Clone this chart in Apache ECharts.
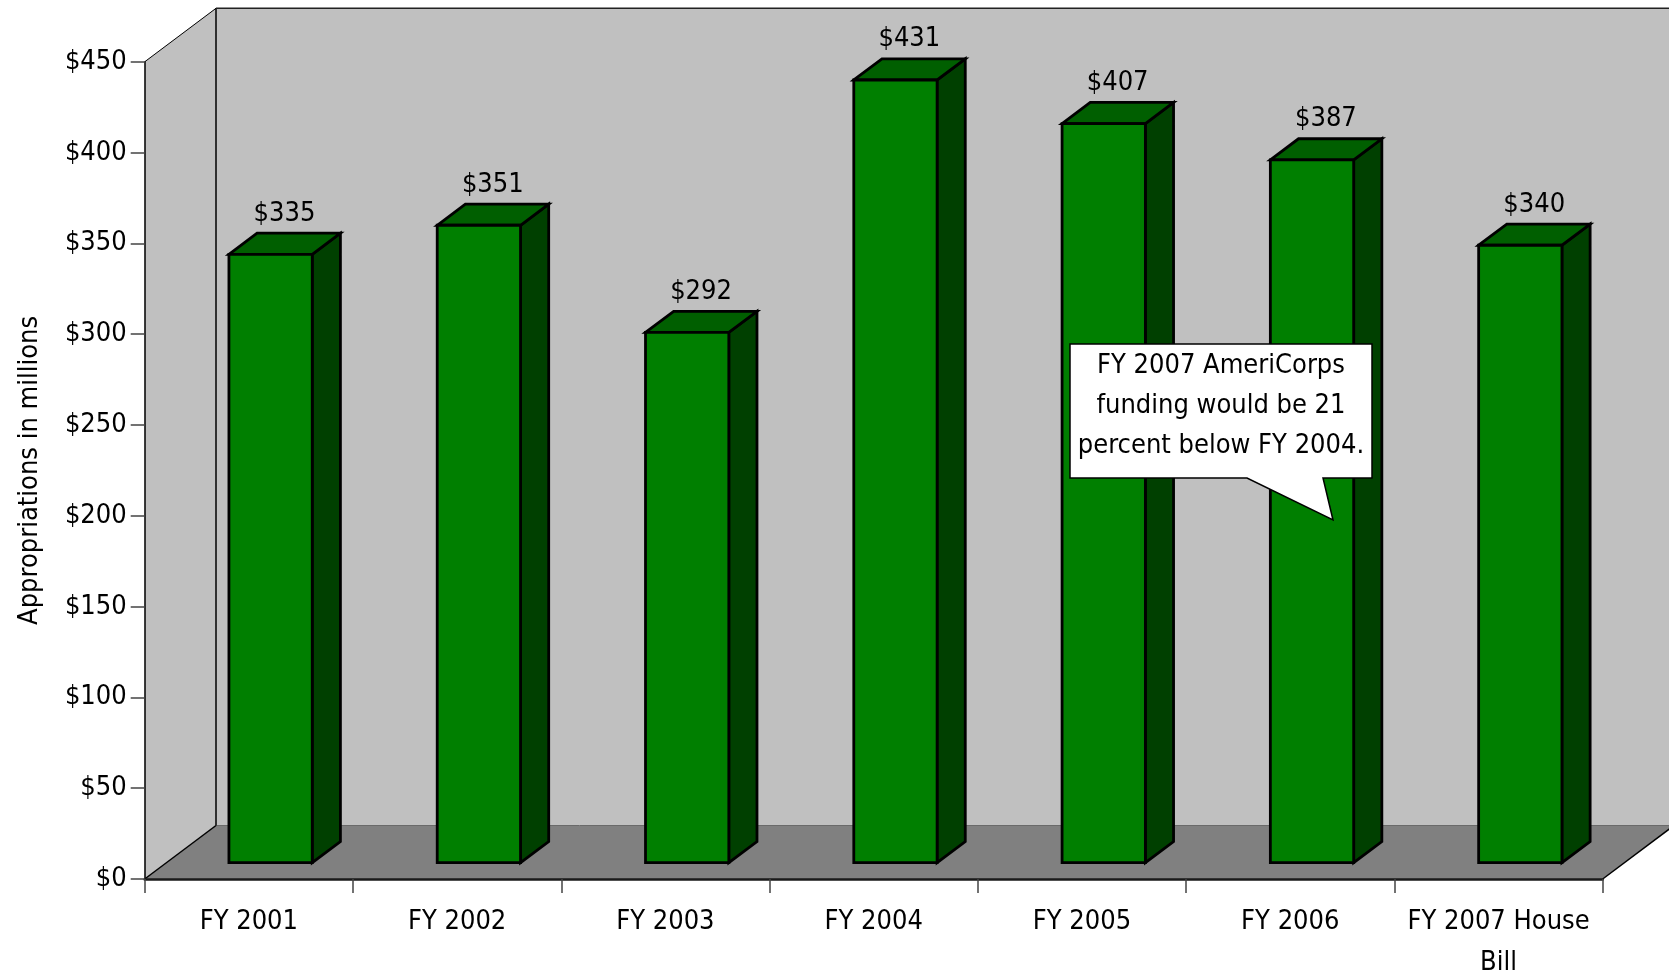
<!DOCTYPE html>
<html>
<head>
<meta charset="utf-8">
<script src="https://cdn.jsdelivr.net/npm/echarts@6/dist/echarts.min.js"></script>
<style>
  html, body { margin: 0; padding: 0; background: #fff; }
  #main { width: 1669px; height: 974px; }
</style>
</head>
<body>
<div id="main"></div>
<script>
  // datos
  var categorias = ['FY 2001', 'FY 2002', 'FY 2003', 'FY 2004', 'FY 2005', 'FY 2006', 'FY 2007 House\nBill'];
  var valores = [335, 351, 292, 431, 407, 387, 340];
  var etiquetas = ['$335', '$351', '$292', '$431', '$407', '$387', '$340'];
  var yTicks = [0, 50, 100, 150, 200, 250, 300, 350, 400, 450];
  var notaTexto = 'FY 2007 AmeriCorps\nfunding would be 21\npercent below FY 2004.';

  var fuente = "'Liberation Sans Narrow', 'Arial Narrow', 'DejaVu Sans Condensed', sans-serif";
  var tam = 27;

  // desplazamiento de profundidad (efecto 3D)
  var DX = 71.3, DY = -53.5;
  var D0 = 0.305, D1 = 0.70;

  var myChart = echarts.init(document.getElementById('main'));

  function paredes(params, api) {
    var cs = params.coordSys;
    var x = cs.x, y = cs.y, w = cs.width, h = cs.height;
    var yb = y + h;
    return {
      type: 'group',
      children: [
        { type: 'polygon', shape: { points: [[x, yb], [x, y], [x + DX, y + DY], [x + DX, yb + DY]] },
          style: { fill: '#c0c0c0' } },
        { type: 'polygon', shape: { points: [[x + DX, y + DY], [x + w + DX + 20, y + DY], [x + w + DX + 20, yb + DY], [x + DX, yb + DY]] },
          style: { fill: '#c0c0c0' } },
        { type: 'polygon', shape: { points: [[x, yb], [x + w, yb], [x + w + DX, yb + DY], [x + DX, yb + DY]] },
          style: { fill: '#808080' } },
        { type: 'line', shape: { x1: x + DX, y1: yb + DY, x2: x + w + DX + 20, y2: yb + DY }, style: { stroke: '#6a6a6a', lineWidth: 1 } },
        { type: 'line', shape: { x1: x + DX, y1: y + DY, x2: x + DX, y2: yb + DY }, style: { stroke: '#000', lineWidth: 1.5 } },
        { type: 'line', shape: { x1: x + DX, y1: y + DY, x2: x + w + DX + 20, y2: y + DY }, style: { stroke: '#222', lineWidth: 1.5 } },
        { type: 'line', shape: { x1: x, y1: y, x2: x + DX, y2: y + DY }, style: { stroke: '#000', lineWidth: 1 } },
        { type: 'line', shape: { x1: x, y1: yb, x2: x + DX, y2: yb + DY }, style: { stroke: '#000', lineWidth: 1.5 } },
        { type: 'line', shape: { x1: x + w, y1: yb, x2: x + w + DX, y2: yb + DY }, style: { stroke: '#000', lineWidth: 1.5 } }
      ]
    };
  }

  function barra3d(params, api) {
    var i = api.value(0);
    var v = api.value(1);
    var base = api.coord([i, 0]);
    var top = api.coord([i, v]);
    var bw = api.size([1, 0])[0] * 0.4;
    var xl = base[0] - bw / 2, xr = base[0] + bw / 2;
    var yb = base[1], yt = top[1];
    var xl0 = xl + DX * D0, xr0 = xr + DX * D0, xl1 = xl + DX * D1, xr1 = xr + DX * D1;
    var yb0 = yb + DY * D0, yt0 = yt + DY * D0, yb1 = yb + DY * D1, yt1 = yt + DY * D1;
    var linea = { stroke: '#000', lineWidth: 2.8, lineJoin: 'miter' };
    return {
      type: 'group',
      children: [
        { type: 'polygon', shape: { points: [[xr0, yt0], [xr1, yt1], [xr1, yb1], [xr0, yb0]] },
          style: Object.assign({ fill: '#004000' }, linea) },
        { type: 'polygon', shape: { points: [[xl0, yt0], [xl1, yt1], [xr1, yt1], [xr0, yt0]] },
          style: Object.assign({ fill: '#005f00' }, linea) },
        { type: 'rect', shape: { x: xl0, y: yt0, width: bw, height: yb0 - yt0 },
          style: Object.assign({ fill: '#007f00' }, linea) },
        { type: 'text', x: base[0] + DX * 0.5, y: yt1 - 6,
          style: { text: etiquetas[i], font: tam + 'px ' + fuente, fill: '#000', align: 'center', verticalAlign: 'bottom' } }
      ]
    };
  }

  var option = {
    animation: false,
    backgroundColor: '#ffffff',
    grid: { left: 144.7, right: 66.3, top: 61.8, bottom: 95, containLabel: false, outerBoundsMode: 'none' },
    xAxis: {
      type: 'category',
      data: categorias,
      z: 10,
      axisLine: { lineStyle: { color: '#1a1a1a', width: 2.5 } },
      axisTick: { show: true, length: 14, lineStyle: { color: '#444', width: 1.5 } },
      axisLabel: { interval: 0, margin: 22, color: '#000', fontSize: tam, lineHeight: 41, fontFamily: fuente }
    },
    yAxis: {
      type: 'value',
      min: yTicks[0],
      max: yTicks[yTicks.length - 1],
      interval: 50,
      z: 10,
      name: 'Appropriations in millions',
      nameLocation: 'middle',
      nameRotate: 90,
      nameGap: 101,
      nameMoveOverlap: false,
      nameTextStyle: { color: '#000', fontSize: tam, fontFamily: fuente },
      axisLine: { show: true, lineStyle: { color: '#000', width: 1.5 } },
      axisTick: { show: true, length: 14, lineStyle: { color: '#444', width: 1.5 } },
      axisLabel: { margin: 18, color: '#000', fontSize: tam, fontFamily: fuente,
        formatter: function (v) { return '$' + v; } },
      splitLine: { show: false }
    },
    graphic: [
      {
        type: 'polygon', z: 100,
        shape: { points: [[1070, 344], [1372, 344], [1372, 478], [1323, 478], [1333, 520], [1247, 478], [1070, 478]] },
        style: { fill: '#fff', stroke: '#000', lineWidth: 1.5 }
      },
      {
        type: 'text', z: 101, x: 1221, y: 406,
        style: { text: notaTexto, font: tam + 'px ' + fuente, fill: '#000', align: 'center', verticalAlign: 'middle', lineHeight: 40 }
      }
    ],
    series: [
      {
        type: 'custom',
        z: 1,
        silent: true,
        renderItem: paredes,
        data: [[0, 0]]
      },
      {
        type: 'custom',
        z: 5,
        renderItem: barra3d,
        data: valores.map(function (v, i) { return [i, v]; })
      }
    ]
  };

  myChart.setOption(option);
</script>
</body>
</html>
